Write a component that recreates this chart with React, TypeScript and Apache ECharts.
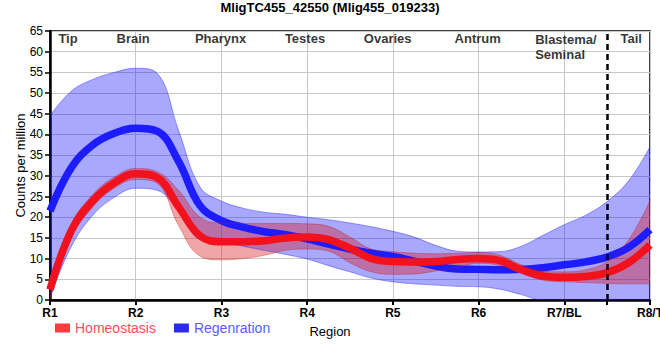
import { useEffect, useRef } from "react";
import * as echarts from "echarts";

// x positions along the body axis (1 = R1 ... 8 = R8/T)
const xPos = [1, 1.25, 1.5, 1.75, 2, 2.25, 2.5, 2.75, 3, 3.25, 3.5, 3.75, 4, 4.25, 4.5, 4.75, 5, 5.25, 5.5, 5.75, 6, 6.25, 6.5, 6.75, 7, 7.25, 7.5, 7.75, 8];

const homeoMean = [2.5, 16.8, 24, 28.3, 30.5, 29.6, 22.5, 15.5, 14.1, 14.1, 14.3, 15, 15.2, 14.6, 12.5, 10, 9.3, 9.2, 9.3, 9.8, 10, 9.5, 7.3, 5.8, 5.5, 5.7, 6.6, 9, 13.3];
const homeoHigh = [4, 18.5, 25.5, 29.7, 31.8, 31, 26.5, 20, 18.6, 18.5, 18.5, 18.5, 18.4, 17.8, 15.2, 12.3, 11.7, 11.3, 11.2, 11.3, 11.5, 10.8, 8.5, 7, 6.8, 7.3, 9.3, 14.5, 24];
const homeoLow = [0, 15, 22.5, 27, 29.1, 28.2, 18, 10.6, 9.7, 10, 10.8, 12, 12.3, 11.8, 9, 6.8, 6.2, 6.3, 7, 7.9, 8.9, 8.3, 6.5, 4.8, 4.4, 4.2, 4, 3.9, 3.9];

const regenMean = [21.5, 32, 37.5, 40.3, 41.5, 40.8, 33.5, 22.8, 19.2, 17.6, 16.5, 15.8, 14.8, 13.5, 12.3, 11.3, 10.5, 9.4, 8.2, 7.5, 7.4, 7.3, 7.4, 7.8, 8.5, 9.2, 10.4, 12.7, 17];
const regenHigh = [44.5, 50.5, 53.3, 55, 56, 54.8, 41, 27.3, 23.9, 22.2, 21.2, 20.7, 20, 19.4, 18.6, 17.7, 16.6, 15.2, 13.2, 11.8, 11.6, 11.7, 13, 15.6, 18.2, 20.5, 23.8, 28.8, 37];
const regenLow = [0.5, 13, 20.5, 24.8, 27, 26.5, 21.5, 14.6, 14, 13, 12, 11, 9.9, 8.3, 6.8, 5.3, 4.4, 3.9, 3.6, 3.3, 3.2, 2.6, 1.3, 0, 0, 0, 0, 0, 0];

const xTickLabels = ["R1", "R2", "R3", "R4", "R5", "R6", "R7/BL", "R8/T"];
const regionNames = ["Tip", "Brain", "Pharynx", "Testes", "Ovaries", "Antrum", "Blastema/\nSeminal", "Tail"];
const regionX = [1.21, 1.97, 2.99, 3.975, 4.94, 5.99, 6.66, 7.78];
const regionY = [63.1, 63.1, 63.1, 63.1, 63.1, 63.1, 63.1, 63.1];
const tailBoundary = 7.5;

const FONT = "'Liberation Sans', Arial, sans-serif";

export default function App() {
  const ref = useRef<HTMLDivElement>(null);

  useEffect(() => {
    if (!ref.current) return;
    const chart = echarts.init(ref.current, undefined, { renderer: "svg" });

    const cats = xPos.map((x) => String(x));
    const isMajor = (i: number) => Number.isInteger(xPos[i]);
    const diff = (hi: number[], lo: number[]) => hi.map((h, i) => +(h - lo[i]).toFixed(3));

    const blueFill = "rgba(0,0,255,0.34)";
    const blueEdge = "rgba(40,40,255,0.45)";
    const redFill = "rgba(215,20,20,0.38)";
    const redEdge = "rgba(200,20,20,0.35)";

    const option: any = {
      animation: false,
      textStyle: { fontFamily: FONT },
      title: {
        text: "MligTC455_42550 (Mlig455_019233)",
        left: "center",
        top: -4,
        textStyle: { fontFamily: FONT, fontSize: 13, fontWeight: "bold", color: "#000" },
      },
      legend: {
        left: 50,
        top: 316,
        icon: "rect",
        itemWidth: 15,
        itemHeight: 9,
        itemGap: 18,
        textStyle: { fontFamily: FONT, fontSize: 14 },
        data: [
          { name: "Homeostasis", textStyle: { color: "#ff4d5a" } },
          { name: "Regenration", textStyle: { color: "#5a5aff" } },
        ],
      },
      grid: {
        left: 50,
        right: 10,
        top: 31,
        bottom: 60,
        show: true,
        borderColor: "#000",
        borderWidth: 1.5,
        outerBoundsMode: "none",
        containLabel: false,
      },
      xAxis: [
        {
          type: "category",
          data: cats,
          boundaryGap: false,
          name: "Region",
          nameLocation: "middle",
          nameGap: 25,
          nameTextStyle: { fontFamily: FONT, fontSize: 13, color: "#000", padding: [0, 40, 0, 0] },
          axisLine: { lineStyle: { color: "#000", width: 2.5 } },
          axisTick: {
            show: true,
            length: 5,
            interval: (i: number) => isMajor(i) || xPos[i] === tailBoundary,
            lineStyle: { color: "#000", width: 2 },
          },
          axisLabel: {
            fontFamily: FONT,
            fontSize: 12,
            fontWeight: "bold",
            color: "#000",
            margin: 7,
            interval: (i: number) => isMajor(i),
            formatter: (_v: string, i: number) => xTickLabels[Math.round(xPos[i]) - 1] ?? "",
          },
          splitLine: {
            show: true,
            interval: (i: number) => isMajor(i),
            lineStyle: { color: "#c8c8c8", width: 1 },
          },
        },
        {
          type: "value",
          min: 1,
          max: 8,
          show: false,
          position: "bottom",
          splitLine: { show: false },
        },
      ],
      yAxis: {
        type: "value",
        min: 0,
        max: 65,
        interval: 5,
        name: "Counts per million",
        nameLocation: "middle",
        nameRotate: 90,
        nameGap: 23,
        nameMoveOverlap: false,
        nameTextStyle: { fontFamily: FONT, fontSize: 13, color: "#000" },
        axisLine: { show: true, lineStyle: { color: "#000", width: 2.5 } },
        axisTick: { show: true, length: 5, lineStyle: { color: "#000", width: 1.5 } },
        axisLabel: { fontFamily: FONT, fontSize: 12, color: "#000", margin: 7 },
        splitLine: { show: true, lineStyle: { color: "#c8c8c8", width: 1 } },
      },
      series: [
        {
          name: "regenLow",
          type: "line",
          stack: "regen",
          data: regenLow,
          smooth: 0.4,
          symbol: "none",
          lineStyle: { color: blueEdge, width: 1 },
          silent: true,
        },
        {
          name: "regenBand",
          type: "line",
          stack: "regen",
          data: diff(regenHigh, regenLow),
          smooth: 0.4,
          symbol: "none",
          lineStyle: { color: blueEdge, width: 1 },
          areaStyle: { color: blueFill, opacity: 1 },
          silent: true,
        },
        {
          name: "Regenration",
          type: "line",
          data: regenMean,
          smooth: 0.4,
          symbol: "none",
          itemStyle: { color: "#2b2bf0" },
          lineStyle: { color: "#1c1cff", width: 7.5 },
          silent: true,
        },
        {
          name: "homeoLow",
          type: "line",
          stack: "homeo",
          data: homeoLow,
          smooth: 0.4,
          symbol: "none",
          lineStyle: { color: redEdge, width: 1 },
          silent: true,
        },
        {
          name: "homeoBand",
          type: "line",
          stack: "homeo",
          data: diff(homeoHigh, homeoLow),
          smooth: 0.4,
          symbol: "none",
          lineStyle: { color: redEdge, width: 1 },
          areaStyle: { color: redFill, opacity: 1 },
          silent: true,
        },
        {
          name: "Homeostasis",
          type: "line",
          data: homeoMean,
          smooth: 0.4,
          symbol: "none",
          itemStyle: { color: "#ff3a3a" },
          lineStyle: { color: "#f2121e", width: 7.5 },
          silent: true,
        },
        {
          name: "regions",
          type: "scatter",
          xAxisIndex: 1,
          symbolSize: 0,
          silent: true,
          data: regionNames.map((n, i) => ({
            value: [regionX[i], regionY[i]],
            name: n,
            label:
              i === 6
                ? { align: "left", verticalAlign: "top", offset: [0, -7] }
                : undefined,
          })),
          label: {
            show: true,
            position: "inside",
            formatter: (p: any) => p.name,
            fontFamily: FONT,
            fontSize: 13,
            fontWeight: "bold",
            color: "#000",
            lineHeight: 15,
          },
          markLine: {
            silent: true,
            symbol: "none",
            label: { show: false },
            lineStyle: { color: "#000", width: 2.5, type: [6, 4] },
            data: [[{ coord: [tailBoundary, 0] }, { coord: [tailBoundary, 65] }]],
          },
        },
      ],
    };

    chart.setOption(option);

    return () => chart.dispose();
  }, []);

  return (
    <div
      ref={ref}
      style={{ position: "absolute", left: 0, top: 0, width: 660, height: 360 }}
    />
  );
}
